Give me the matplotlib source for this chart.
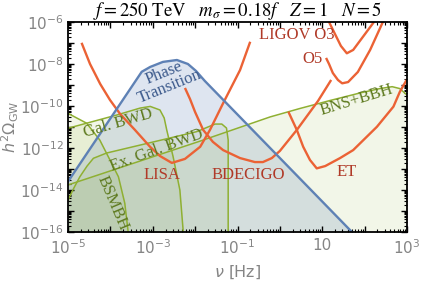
import numpy as np
import matplotlib
matplotlib.use('Agg')
import matplotlib.pyplot as plt
from matplotlib.ticker import LogLocator, FixedLocator, NullFormatter

plt.rcParams['mathtext.fontset'] = 'dejavusans'

# all curves given as log10(nu [Hz]) and log10(h^2 Omega_GW)
pt_nu = [-5.00, -3.26, -3.06, -2.76, -2.43, -2.17, -1.98, -1.77, 1.70]
pt_om = [-13.60, -8.37, -8.14, -7.90, -7.81, -8.00, -8.33, -8.81, -16.00]

lisa_nu = [-4.68, -4.48, -4.24, -4.01, -3.77, -3.42, -3.06, -2.83, -2.55, -2.24, -1.88, -1.65, -1.34, -0.94, -0.70]
lisa_om = [-6.99, -8.00, -8.95, -9.71, -10.38, -11.14, -11.95, -12.38, -12.71, -12.52, -11.94, -11.14, -9.87, -8.29, -6.94]

bdecigo_nu = [-2.24, -2.12, -2.00, -1.81, -1.58, -1.34, -0.94, -0.59, -0.40, -0.19, 0.00, 0.40, 0.90, 1.21]
bdecigo_om = [-9.14, -9.67, -10.29, -11.14, -11.71, -12.10, -12.48, -12.67, -12.67, -12.48, -12.14, -11.14, -9.76, -8.76]

et_nu = [0.20, 0.40, 0.55, 0.71, 0.87, 1.07, 1.42, 1.73, 2.29, 2.68, 2.83, 2.99]
et_om = [-10.27, -11.14, -11.94, -12.57, -12.97, -12.86, -12.48, -12.10, -10.99, -10.03, -9.33, -8.76]

o3_nu = [1.16, 1.30, 1.44, 1.58, 1.73, 1.94, 2.22]
o3_om = [-6.00, -6.57, -7.14, -7.49, -7.33, -6.76, -6.00]

o5_nu = [1.09, 1.16, 1.25, 1.37, 1.47, 1.61, 1.84, 2.13, 2.43]
o5_om = [-7.71, -8.00, -8.43, -8.76, -8.92, -8.86, -8.38, -7.33, -6.00]

bns_nu = [-5.00, -1.88, -0.23, 0.47, 1.18, 1.89, 2.36, 2.65, 2.83, 3.00]
bns_om = [-13.76, -11.67, -10.52, -10.12, -9.74, -9.38, -9.17, -9.08, -9.17, -9.48]

galbwd_nu = [-5.00, -3.85, -3.30, -3.06, -2.83, -2.73, -2.67, -2.52, -2.36, -2.28]
galbwd_om = [-11.06, -10.43, -10.10, -10.02, -10.19, -10.57, -11.14, -12.41, -14.00, -16.00]

exgal_nu = [-5.00, -4.86, -4.72, -4.55, -4.40, -4.09, -1.96, -1.53, -1.37, -1.26, -1.22, -1.22]
exgal_om = [-14.48, -13.90, -13.37, -12.86, -12.49, -12.24, -11.22, -10.86, -10.86, -11.05, -11.62, -16.00]

bsmbh_nu = [-5.00, -4.56, -4.25, -4.01, -3.81, -3.66, -3.58]
bsmbh_om = [-10.35, -10.82, -11.62, -12.57, -13.37, -14.63, -16.00]

RED = '#EB6235'
GREEN = '#8FB032'
BLUE = '#5E81B5'
RED_T = '#b03a28'
GREEN_T = '#5e7a1f'
BLUE_T = '#3c5a8c'
GRAY = '#858585'


def p(a):
    return 10.0 ** np.asarray(a)


fig = plt.figure(figsize=(4.21, 2.82), dpi=100)
ax = fig.add_axes([68 / 421, 1 - 232 / 282, 339 / 421, 210 / 282])
ax.set_xscale('log')
ax.set_yscale('log')
ax.set_xlim(1e-5, 1e3)
ax.set_ylim(1e-16, 1e-6)

floor = 1e-17
greens = [(bns_nu, bns_om), (bsmbh_nu, bsmbh_om), (galbwd_nu, galbwd_om), (exgal_nu, exgal_om)]

# foreground fills
for nu, om in greens:
    ax.fill_between(p(nu), p(om), floor, color=GREEN, alpha=0.11, lw=0, zorder=1)
ax.fill_between(p(pt_nu), p(pt_om), floor, color=BLUE, alpha=0.2, lw=0, zorder=1)

for nu, om in greens:
    ax.plot(p(nu), p(om), color=GREEN, lw=1.1, zorder=2)

for nu, om in [(lisa_nu, lisa_om), (bdecigo_nu, bdecigo_om), (et_nu, et_om), (o3_nu, o3_om), (o5_nu, o5_om)]:
    ax.plot(p(nu), p(om), color=RED, lw=1.7, zorder=3, solid_capstyle='butt')

ax.plot(p(pt_nu), p(pt_om), color=BLUE, lw=1.7, zorder=4)

# labels
tfont = dict(family='Liberation Serif', fontsize=12, ha='center', va='center', zorder=5)
ax.text(10**-2.66, 10**-8.76, 'Phase\nTransition', color=BLUE_T, rotation=22,
        linespacing=0.95, **tfont)
ax.text(10**-3.81, 10**-10.83, 'Gal. BWD', color=GREEN_T, rotation=16, **tfont)
ax.text(10**-2.91, 10**-12.10, 'Ex. Gal. BWD', color=GREEN_T, rotation=20, **tfont)
ax.text(10**-3.96, 10**-14.62, 'BSMBH', color=GREEN_T, rotation=-67, **tfont)
ax.text(10**1.82, 10**-9.71, 'BNS+BBH', color=GREEN_T, rotation=17, **tfont)
ax.text(10**-2.78, 10**-13.29, 'LISA', color=RED_T, **tfont)
ax.text(10**-0.75, 10**-13.29, 'BDECIGO', color=RED_T, **tfont)
ax.text(10**1.58, 10**-13.14, 'ET', color=RED_T, **tfont)
ax.text(10**0.40, 10**-6.62, 'LIGOV O3', color=RED_T, **tfont)
ax.text(10**0.76, 10**-7.76, 'O5', color=RED_T, **tfont)

# axes styling
for s in ax.spines.values():
    s.set_linewidth(1.3)
    s.set_zorder(6)

ax.xaxis.set_major_locator(FixedLocator([10.0**k for k in range(-5, 4)]))
ax.xaxis.set_minor_locator(LogLocator(base=10, subs=np.arange(2, 10), numticks=20))
ax.yaxis.set_major_locator(FixedLocator([10.0**k for k in range(-16, -5)]))
ax.yaxis.set_minor_locator(LogLocator(base=10, subs=np.arange(2, 10), numticks=20))
ax.xaxis.set_minor_formatter(NullFormatter())
ax.yaxis.set_minor_formatter(NullFormatter())

xlabels = {-5: r'$10^{-5}$', -3: r'$10^{-3}$', -1: r'$10^{-1}$', 1: '10', 3: r'$10^{3}$'}
ax.set_xticklabels([xlabels.get(k, '') for k in range(-5, 4)])
ax.set_yticklabels([r'$10^{%d}$' % k if k % 2 == 0 else '' for k in range(-16, -5)])

ax.tick_params(which='both', direction='in', top=True, right=True, color='black',
               labelcolor=GRAY, labelsize=11, pad=3)
ax.tick_params(axis='x', which='major', pad=4.5)
ax.tick_params(which='major', length=4.5, width=1.0)
ax.tick_params(which='minor', length=2.2, width=0.8)

ax.set_xlabel(r'$\nu$ [Hz]', color=GRAY, fontsize=11.5)
ax.xaxis.set_label_coords(0.5, -0.15)
ax.set_ylabel(r'$h^2\Omega_{\rm GW}$', color=GRAY, fontsize=11.5)
ax.yaxis.set_label_coords(-0.14, 0.5)

fig.text(0.5 * (68 + 407) / 421, 1 - 11 / 282,
         r'$f = 250\ \mathrm{TeV}\quad m_\sigma = 0.18f\quad Z = 1\quad N = 5$',
         ha='center', va='center', fontsize=13.5, math_fontfamily='stix')

fig.savefig('out.png', dpi=100)
plt.close(fig)
